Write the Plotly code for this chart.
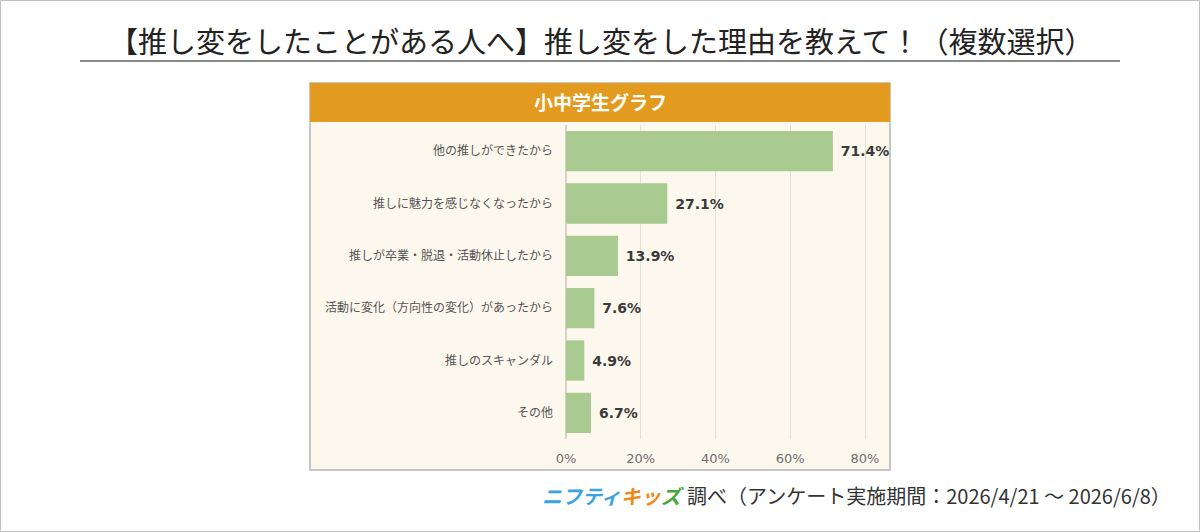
import plotly.graph_objects as go

categories = [
    "他の推しができたから",
    "推しに魅力を感じなくなったから",
    "推しが卒業・脱退・活動休止したから",
    "活動に変化（方向性の変化）があったから",
    "推しのスキャンダル",
    "その他",
]
values = [71.4, 27.1, 13.9, 7.6, 4.9, 6.7]
x_ticks = [0, 20, 40, 60, 80]
x_tick_labels = ["0%", "20%", "40%", "60%", "80%"]

W, H = 1200, 532
L, R, T, B = 566, 316, 125, 93
PW, PH = W - L - R, H - T - B

def px(x):
    return (x - L) / PW

def py(y):
    return 1 - (y - T) / PH

JP = "Noto Sans CJK JP"

fig = go.Figure()
fig.add_trace(go.Bar(
    x=values, y=categories, orientation="h",
    marker=dict(color="#a9ca91", line=dict(width=0)),
    width=0.77,
    text=[f"\u00a0{v:.1f}%" for v in values],
    textposition="outside",
    textfont=dict(family="DejaVu Sans", size=14, color="#3a3a3a", weight="bold"),
    cliponaxis=False,
    hoverinfo="skip",
))

shapes = [
    dict(type="rect", xref="paper", yref="paper", x0=px(0.5), x1=px(1199.5), y0=py(0.5), y1=py(531.5),
         line=dict(color="#c0c0c0", width=1), fillcolor="rgba(0,0,0,0)", layer="below"),
    dict(type="line", xref="paper", yref="paper", x0=px(80), x1=px(1120), y0=py(61), y1=py(61),
         line=dict(color="#8a8a8a", width=2), layer="below"),
    dict(type="rect", xref="paper", yref="paper", x0=px(310), x1=px(890), y0=py(83), y1=py(470),
         line=dict(color="#b5b5b5", width=1.5), fillcolor="#fdf8ee", layer="below"),
    dict(type="rect", xref="paper", yref="paper", x0=px(310), x1=px(890), y0=py(83), y1=py(122),
         line=dict(width=0), fillcolor="#e29b1e", layer="below"),
]

annotations = [
    dict(text="【推し変をしたことがある人へ】推し変をした理由を教えて！（複数選択）",
         xref="paper", yref="paper", x=px(601), y=py(40), xanchor="center", yanchor="middle",
         showarrow=False, font=dict(family=JP, size=29, color="#222222")),
    dict(text="<b>小中学生グラフ</b>",
         xref="paper", yref="paper", x=px(600), y=py(102), xanchor="center", yanchor="middle",
         showarrow=False, font=dict(family=JP, size=19, color="#ffffff")),
    dict(text="<b><i><span style='color:#3aa3e3'>ニフティ</span><span style='color:#f0891a'>キッ</span><span style='color:#47a83a'>ズ</span></i></b>",
         xref="paper", yref="paper", x=px(540), y=py(495), xanchor="left", yanchor="middle",
         showarrow=False, font=dict(family=JP, size=20)),
    dict(text="調べ（アンケート実施期間：2026/4/21 ～ 2026/6/8）",
         xref="paper", yref="paper", x=px(685), y=py(495), xanchor="left", yanchor="middle",
         showarrow=False, font=dict(family=JP, size=20, color="#333333")),
]

fig.update_layout(
    width=W, height=H,
    margin=dict(l=L, r=R, t=T, b=B, pad=0),
    paper_bgcolor="#ffffff",
    plot_bgcolor="#fdf8ee",
    showlegend=False,
    shapes=shapes,
    annotations=annotations,
    bargap=0.23,
)
fig.update_xaxes(
    range=[0, 80 * PW / 299], tickvals=x_ticks, ticktext=x_tick_labels,
    showgrid=True, gridcolor="#e6e0d2", gridwidth=1, zeroline=True, zerolinecolor="#d8d2c4",
    tickfont=dict(family="DejaVu Sans", size=13, color="#6e6e6e"),
    ticks="", ticklabelstandoff=10, fixedrange=True,
)
fig.update_yaxes(
    categoryorder="array", categoryarray=categories, autorange="reversed",
    tickfont=dict(family=JP, size=12, color="#555555"),
    ticks="", ticklabelstandoff=12, showgrid=False, zeroline=False, fixedrange=True,
)

fig.write_html("out.html")
